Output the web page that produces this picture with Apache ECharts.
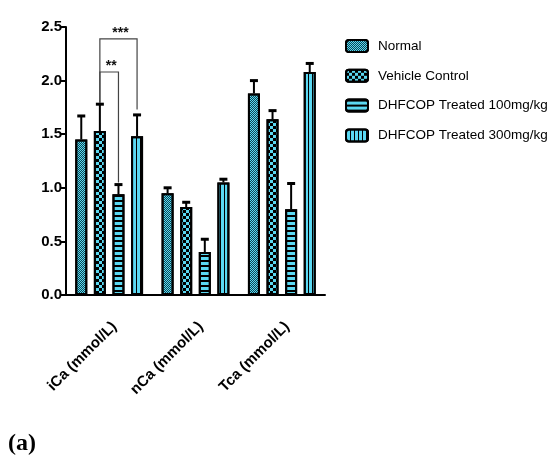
<!DOCTYPE html>
<html><head><meta charset="utf-8">
<script src="https://cdn.jsdelivr.net/npm/echarts@6/dist/echarts.min.js"></script>
<style>html,body{margin:0;padding:0;background:#fff}#c{width:548px;height:465px}</style>
</head><body><div id="c"></div>
<script>
// ---- data ----
const categories = ['iCa (mmol/L)', 'nCa (mmol/L)', 'Tca (mmol/L)'];
const seriesNames = ['Normal', 'Vehicle Control', 'DHFCOP Treated 100mg/kg', 'DHFCOP Treated 300mg/kg'];
const normalMean = [1.45, 0.95, 1.88];
const normalSem = [0.22, 0.05, 0.12];
const vehicleMean = [1.53, 0.82, 1.64];
const vehicleSem = [0.25, 0.045, 0.08];
const dose100Mean = [0.94, 0.40, 0.80];
const dose100Sem = [0.09, 0.12, 0.24];
const dose300Mean = [1.48, 1.05, 2.08];
const dose300Sem = [0.20, 0.03, 0.08];
const yMin = 0, yMax = 2.5, yInterval = 0.5;
// significance brackets (within iCa group, series indices)
const sigLabels = ['***', '**'];
const sigCategory = [0, 0];
const sigFrom = [1, 1];
const sigTo = [3, 2];
const sigLevel = [2.39, 2.08];
const sigFromEnd = [1.79, 1.79];
const sigToEnd = [1.73, 1.05];

// ---- styling ----
const FONT = "'Liberation Sans Narrow', 'Liberation Sans', Arial, sans-serif";
const FILL = '#5bd8f2';
const BAR_W = 12, BAR_GAP = 0.55;
const STEP = BAR_W * (1 + BAR_GAP);
const decals = [
  {symbol: 'rect', symbolSize: 1, dashArrayX: [[1, 1], [0, 1, 1, 0]], dashArrayY: [1, 0], color: '#0d4652'},
  {symbol: 'rect', symbolSize: 1, dashArrayX: [[3, 3], [0, 3, 3, 0]], dashArrayY: [3, 0], color: '#000'},
  {symbol: 'rect', symbolSize: 1, dashArrayX: [1, 0], dashArrayY: [2, 3], color: '#000'},
  {symbol: 'rect', symbolSize: 1, dashArrayX: [1, 3], dashArrayY: [1, 0], color: '#000'}
];
const means = [normalMean, vehicleMean, dose100Mean, dose300Mean];
const sems = [normalSem, vehicleSem, dose100Sem, dose300Sem];

const series = [];
means.forEach((m, i) => {
  series.push({
    name: seriesNames[i], type: 'bar', data: m, barWidth: BAR_W, barGap: (BAR_GAP * 100) + '%',
    itemStyle: {color: FILL, borderColor: '#000', borderWidth: 2, decal: decals[i]},
    emphasis: {disabled: true}, z: 2
  });
});
means.forEach((m, i) => {
  series.push({
    name: 'err' + i, type: 'custom', z: 3, silent: true,
    data: m.map((v, c) => [c, v, sems[i][c]]),
    renderItem: function (params, api) {
      const c = api.value(0), v = api.value(1), e = api.value(2);
      const b = api.coord([c, v]), t = api.coord([c, v + e]);
      const x = b[0] + (i - 1.5) * STEP;
      return {type: 'group', children: [
        {type: 'line', shape: {x1: x, y1: b[1], x2: x, y2: t[1]}, style: {stroke: '#000', lineWidth: 2}},
        {type: 'line', shape: {x1: x - 4, y1: t[1], x2: x + 4, y2: t[1]}, style: {stroke: '#000', lineWidth: 3}}
      ]};
    }
  });
});
series.push({
  name: 'sig', type: 'custom', z: 4, silent: true,
  data: sigLabels.map((l, k) => [sigCategory[k], sigLevel[k], sigFrom[k], sigTo[k], sigFromEnd[k], sigToEnd[k], k]),
  renderItem: function (params, api) {
    const c = api.value(0), lvl = api.value(1);
    const p = api.coord([c, lvl]);
    const xL = p[0] + (api.value(2) - 1.5) * STEP;
    const xR = p[0] + (api.value(3) - 1.5) * STEP;
    const yL = api.coord([c, api.value(4)])[1];
    const yR = api.coord([c, api.value(5)])[1];
    return {type: 'group', children: [
      {type: 'polyline', shape: {points: [[xL, yL], [xL, p[1]], [xR, p[1]], [xR, yR]]},
       style: {stroke: '#444', lineWidth: 1.2, fill: null}},
      {type: 'text', style: {text: sigLabels[api.value(6)], x: (xL + xR) / 2 + 2, y: p[1] + 1,
        align: 'center', verticalAlign: 'bottom', font: 'bold 14px ' + FONT, fill: '#111'}}
    ]};
  }
});

const chart = echarts.init(document.getElementById('c'), null, {renderer: 'canvas'});
chart.setOption({
  animation: false,
  backgroundColor: '#fff',
  title: {text: '(a)', left: 3, top: 427, textStyle: {fontFamily: "'Liberation Serif', serif", fontWeight: 'bold', fontSize: 24, color: '#000'}},
  grid: {left: 66, right: 223, top: 27, bottom: 170},
  legend: {
    data: seriesNames, orient: 'vertical', left: 340, top: 34,
    itemWidth: 22, itemHeight: 12, itemGap: 15.8, icon: 'roundRect',
    textStyle: {fontFamily: FONT, fontSize: 13.5, color: '#000', padding: [0, 0, 0, 5]}
  },
  xAxis: {
    type: 'category', data: categories,
    axisLine: {lineStyle: {color: '#000', width: 2}},
    axisTick: {alignWithLabel: true, length: 8, lineStyle: {color: '#000', width: 1.5}},
    axisLabel: {rotate: 45, verticalAlign: 'top', fontFamily: FONT, fontWeight: 'bold', fontSize: 15, color: '#000', margin: 24}
  },
  yAxis: {
    type: 'value', min: yMin, max: yMax, interval: yInterval,
    axisLine: {show: true, lineStyle: {color: '#000', width: 2}},
    axisTick: {show: true, length: 6, lineStyle: {color: '#000', width: 2}},
    splitLine: {show: false},
    axisLabel: {formatter: v => v.toFixed(1), fontFamily: FONT, fontWeight: 'bold', fontSize: 15, color: '#000', margin: 4}
  },
  series: series
});
</script></body></html>
